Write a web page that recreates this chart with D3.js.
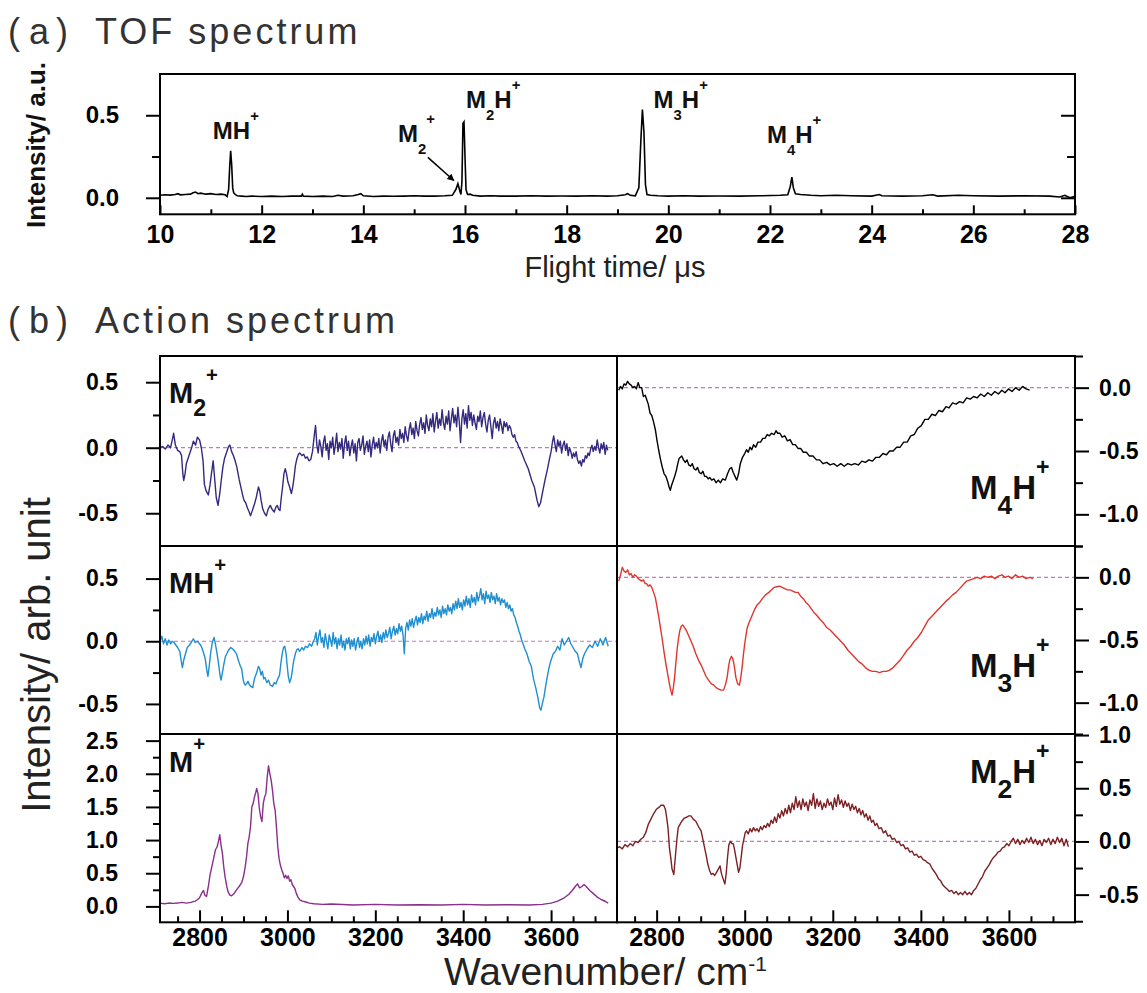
<!DOCTYPE html>
<html><head><meta charset="utf-8">
<script src="https://cdn.jsdelivr.net/npm/d3@7"></script>
<style>body{margin:0;background:#fff}svg{display:block}</style>
</head><body>
<svg id="chart" width="1147" height="993"></svg>
<script>
// ---------------- DATA ----------------
// (a) TOF spectrum: [flight time (us), intensity]
const tofSpectrum = [
[10.0,0.015],[10.1,0.018],[10.2,0.016],[10.3,0.02],[10.35,0.025],[10.4,0.018],[10.5,0.02],[10.6,0.022],[10.65,0.03],[10.7,0.035],[10.75,0.025],[10.8,0.028],[10.9,0.022],[11.0,0.025],[11.1,0.02],[11.2,0.022],[11.28,0.018],[11.32,0.008],[11.35,0.05],[11.37,0.18],[11.39,0.285],[11.41,0.2],[11.43,0.06],[11.45,0.03],[11.48,0.02],[11.52,0.012],[11.6,0.01],[11.7,0.008],[11.8,0.01],[12.0,0.008],[12.2,0.01],[12.4,0.008],[12.6,0.01],[12.78,0.01],[12.8,0.022],[12.82,0.01],[13.0,0.008],[13.2,0.01],[13.4,0.008],[13.5,0.015],[13.6,0.01],[13.8,0.012],[13.9,0.02],[13.95,0.025],[14.0,0.012],[14.2,0.008],[14.4,0.01],[14.6,0.009],[14.8,0.01],[15.0,0.012],[15.2,0.01],[15.4,0.01],[15.6,0.012],[15.75,0.015],[15.82,0.05],[15.86,0.085],[15.9,0.04],[15.92,0.02],[15.94,0.1],[15.96,0.45],[15.98,0.46],[16.0,0.25],[16.02,0.05],[16.05,0.02],[16.1,0.022],[16.15,0.015],[16.3,0.01],[16.5,0.012],[16.7,0.01],[17.0,0.01],[17.3,0.012],[17.6,0.01],[17.9,0.011],[18.2,0.01],[18.5,0.012],[18.8,0.01],[19.0,0.012],[19.15,0.018],[19.2,0.025],[19.25,0.015],[19.35,0.012],[19.42,0.06],[19.46,0.35],[19.49,0.535],[19.52,0.4],[19.55,0.08],[19.58,0.02],[19.65,0.015],[19.8,0.012],[20.0,0.01],[20.3,0.012],[20.6,0.01],[21.0,0.011],[21.4,0.01],[21.8,0.012],[22.2,0.015],[22.35,0.018],[22.4,0.07],[22.43,0.125],[22.46,0.06],[22.5,0.025],[22.6,0.02],[22.8,0.015],[23.0,0.012],[23.3,0.015],[23.6,0.012],[24.0,0.01],[24.15,0.02],[24.2,0.012],[24.6,0.01],[25.0,0.012],[25.2,0.018],[25.3,0.01],[25.7,0.015],[26.0,0.012],[26.5,0.01],[27.0,0.012],[27.5,0.01],[27.7,0.005],[27.8,0.015],[27.9,0.0],[28.0,0.01]
];
const tofXTicks = [10,12,14,16,18,20,22,24,26,28];
const tofYTicks = [0.0,0.5];

// (b) Action spectra: [wavenumber (cm-1), intensity]
const specM2 = [
[2710,0.0],[2716,0.01],[2722,-0.01],[2728,0.02],[2734,0.0],[2738,0.06],[2741,0.11],[2745,0.02],[2750,-0.02],[2755,-0.03],[2759,-0.06],[2762,-0.2],[2764,-0.25],[2767,-0.2],[2770,-0.12],[2777,-0.05],[2782,0.0],[2786,0.05],[2791,0.02],[2795,0.08],[2800,0.06],[2804,0.0],[2808,-0.1],[2811,-0.28],[2815,-0.33],[2820,-0.36],[2824,-0.28],[2827,-0.2],[2831,-0.1],[2834,-0.22],[2838,-0.38],[2842,-0.44],[2846,-0.35],[2849,-0.26],[2853,-0.15],[2857,-0.08],[2862,-0.03],[2866,0.01],[2869,0.02],[2873,-0.03],[2877,-0.06],[2881,-0.1],[2885,-0.15],[2890,-0.24],[2894,-0.3],[2898,-0.36],[2901,-0.4],[2905,-0.42],[2909,-0.46],[2913,-0.49],[2916,-0.52],[2920,-0.48],[2925,-0.43],[2929,-0.38],[2934,-0.3],[2937,-0.33],[2940,-0.4],[2944,-0.47],[2948,-0.5],[2952,-0.52],[2956,-0.47],[2961,-0.44],[2965,-0.47],[2970,-0.49],[2974,-0.45],[2977,-0.44],[2980,-0.47],[2983,-0.48],[2986,-0.38],[2989,-0.3],[2992,-0.2],[2995,-0.16],[2998,-0.2],[3001,-0.26],[3005,-0.3],[3009,-0.35],[3012,-0.3],[3015,-0.23],[3018,-0.14],[3021,-0.09],[3025,-0.05],[3028,-0.04],[3033,-0.06],[3037,-0.05],[3041,-0.08],[3045,-0.07],[3049,-0.1],[3053,-0.09],[3057,-0.03],[3060,0.06],
[3062,0.12],[3064,0.17],[3067,0.02],[3070,-0.04],[3073,0.06],[3076,0.01],[3079,-0.07],[3082,0.04],[3085,0.09],[3088,-0.02],[3091,0.03],[3094,-0.09],[3097,0.05],[3100,0.0],[3103,0.08],[3106,-0.05],[3109,0.02],[3112,0.11],[3115,-0.03],[3118,0.04],[3121,-0.01],[3124,0.07],[3127,-0.08],[3130,0.03],[3133,0.09],[3136,-0.02],[3139,0.05],[3142,-0.06],[3145,0.01],[3148,0.06],[3151,-0.04],[3154,0.03],[3157,-0.1],[3160,0.04],[3163,0.07],[3166,-0.02],[3169,0.02],[3172,0.09],[3175,-0.05],[3178,0.01],[3181,0.05],[3184,-0.03],[3187,0.06],[3190,-0.07],[3193,0.02],[3196,0.08],[3199,-0.01],[3202,0.04],[3205,0.0],[3208,0.07],[3211,-0.04],[3214,0.05],[3217,0.1],[3220,0.01],[3223,0.06],[3226,-0.02],[3229,0.08],[3232,0.12],[3235,0.03],[3238,-0.03],[3241,0.09],[3244,0.13],[3247,0.04],[3250,0.08],[3253,0.02],[3256,0.14],[3259,0.07],[3262,0.11],[3265,0.04],[3268,0.16],[3271,0.09],[3274,0.05],[3277,0.14],[3280,0.19],[3283,0.1],[3286,0.15],[3289,0.07],[3292,0.2],[3295,0.13],[3298,0.09],[3301,0.18],[3304,0.23],[3307,0.14],[3310,0.19],[3313,0.11],[3316,0.25],[3319,0.17],[3322,0.13],[3325,0.22],[3328,0.16],[3331,0.26],[3334,0.12],[3337,0.2],[3340,0.27],[3343,0.15],[3346,0.22],[3349,0.17],[3352,0.29],[3355,0.19],[3358,0.14],[3361,0.24],[3364,0.18],[3367,0.28],[3370,0.13],[3373,0.22],[3376,0.3],[3379,0.19],[3382,0.25],[3385,0.16],[3388,0.31],[3391,0.2],[3394,0.04],[3397,0.22],[3400,0.29],[3403,0.18],[3406,0.26],[3409,0.15],[3412,0.32],[3415,0.21],[3418,0.27],[3421,0.17],[3424,0.25],[3427,0.19],[3430,0.14],[3433,0.24],[3436,0.2],[3439,0.28],[3442,0.16],[3445,0.23],[3448,0.27],[3451,0.18],[3454,0.12],[3457,0.21],[3460,0.25],[3463,0.16],[3466,0.07],[3469,0.19],[3472,0.23],[3475,0.15],[3478,0.2],[3481,0.13],[3484,0.22],[3487,0.17],[3490,0.11],[3493,0.2],[3496,0.16],[3499,0.19],[3502,0.13],[3505,0.17],[3508,0.15],[3511,0.1],[3514,0.08],[3517,0.1],[3520,0.05],[3523,0.04],[3526,0.01],[3529,-0.01],[3532,-0.03],
[3540,-0.1],[3548,-0.16],[3556,-0.25],[3562,-0.3],[3568,-0.4],[3572,-0.45],[3576,-0.42],[3580,-0.35],[3586,-0.25],[3592,-0.16],[3596,-0.09],[3600,-0.03],[3603,0.04],[3606,0.09],[3609,0.02],[3612,-0.03],[3615,0.06],[3618,0.01],[3621,0.05],[3624,-0.04],[3627,0.02],[3630,0.05],[3633,-0.02],[3636,0.03],[3639,-0.06],[3642,0.0],[3645,-0.03],[3648,-0.08],[3651,-0.04],[3654,-0.07],[3657,-0.03],[3660,-0.09],[3663,-0.12],[3666,-0.1],[3669,-0.14],[3672,-0.09],[3675,-0.11],[3678,-0.06],[3681,-0.08],[3684,-0.04],[3687,-0.06],[3690,-0.01],[3693,0.02],[3696,-0.03],[3699,0.01],[3702,-0.02],[3705,0.06],[3708,0.0],[3711,-0.04],[3714,0.03],[3717,-0.01],[3720,0.04],[3723,-0.05],[3726,0.02],[3729,-0.02]
];
const specMH = [
[2710,0.0],[2714,0.04],[2718,-0.02],[2722,0.02],[2726,-0.03],[2730,0.01],[2734,-0.02],[2738,0.0],[2742,-0.01],[2746,-0.03],[2750,-0.05],[2755,-0.08],[2758,-0.15],[2761,-0.21],[2764,-0.15],[2768,-0.1],[2772,-0.05],[2777,-0.03],[2781,-0.01],[2786,0.02],[2790,-0.01],[2795,0.0],[2800,-0.02],[2804,-0.04],[2808,-0.08],[2813,-0.14],[2816,-0.22],[2819,-0.28],[2822,-0.2],[2825,-0.1],[2829,-0.01],[2833,0.03],[2836,-0.02],[2840,-0.1],[2844,-0.2],[2847,-0.28],[2849,-0.31],[2852,-0.25],[2856,-0.17],[2859,-0.12],[2862,-0.1],[2866,-0.07],[2871,-0.05],[2875,-0.06],[2880,-0.08],[2884,-0.1],[2889,-0.16],[2893,-0.2],[2896,-0.22],[2899,-0.3],[2901,-0.33],[2904,-0.35],[2907,-0.34],[2910,-0.32],[2914,-0.35],[2917,-0.36],[2921,-0.37],[2925,-0.3],[2930,-0.25],[2934,-0.2],[2937,-0.22],[2940,-0.27],[2943,-0.24],[2946,-0.3],[2949,-0.29],[2953,-0.33],[2957,-0.31],[2961,-0.35],[2966,-0.36],[2970,-0.33],[2974,-0.34],[2978,-0.3],[2982,-0.27],[2985,-0.18],[2988,-0.1],[2991,-0.05],[2994,-0.04],[2997,-0.1],[2999,-0.18],[3002,-0.28],[3005,-0.33],[3008,-0.3],[3010,-0.26],[3014,-0.16],[3018,-0.1],[3021,-0.07],[3024,-0.06],[3028,-0.08],[3033,-0.05],[3037,-0.07],[3041,-0.04],[3046,-0.05],[3050,-0.02],[3055,-0.04],[3059,0.0],
[3062,0.02],[3065,0.07],[3068,-0.03],[3071,0.04],[3074,0.09],[3077,-0.01],[3080,0.03],[3083,-0.05],[3086,0.06],[3089,0.0],[3092,-0.06],[3095,0.05],[3098,0.01],[3101,-0.04],[3104,0.07],[3107,-0.02],[3110,0.03],[3113,-0.06],[3116,0.02],[3119,-0.03],[3122,0.05],[3125,-0.05],[3128,0.0],[3131,-0.07],[3134,0.02],[3137,-0.02],[3140,0.03],[3143,-0.06],[3146,0.01],[3149,-0.04],[3152,0.02],[3155,-0.07],[3158,-0.01],[3161,0.03],[3164,-0.05],[3167,0.0],[3170,-0.06],[3173,0.02],[3176,-0.03],[3179,0.04],[3182,-0.02],[3185,0.05],[3188,-0.04],[3191,0.03],[3194,0.0],[3197,0.06],[3200,-0.02],[3203,0.04],[3206,0.08],[3209,0.0],[3212,0.05],[3215,-0.01],[3218,0.07],[3221,0.02],[3224,0.09],[3227,0.03],[3230,0.06],[3233,0.11],[3236,0.02],[3239,0.08],[3242,0.12],[3245,0.05],[3248,0.1],[3251,0.06],[3254,0.14],[3257,0.08],[3260,0.12],[3263,0.05],[3266,-0.1],[3269,0.1],[3272,0.15],[3275,0.09],[3278,0.17],[3281,0.12],[3284,0.18],[3287,0.11],[3290,0.16],[3293,0.2],[3296,0.13],[3299,0.19],[3302,0.15],[3305,0.22],[3308,0.14],[3311,0.2],[3314,0.17],[3317,0.24],[3320,0.16],[3323,0.22],[3326,0.19],[3329,0.26],[3332,0.18],[3335,0.23],[3338,0.2],[3341,0.27],[3344,0.21],[3347,0.25],[3350,0.19],[3353,0.28],[3356,0.22],[3359,0.26],[3362,0.21],[3365,0.29],[3368,0.24],[3371,0.27],[3374,0.22],[3377,0.3],[3380,0.25],[3383,0.32],[3386,0.26],[3389,0.34],[3392,0.27],[3395,0.31],[3398,0.25],[3401,0.33],[3404,0.28],[3407,0.36],[3410,0.29],[3413,0.34],[3416,0.27],[3419,0.37],[3422,0.31],[3425,0.35],[3428,0.29],[3431,0.39],[3434,0.32],[3437,0.36],[3440,0.42],[3443,0.33],[3446,0.38],[3449,0.3],[3452,0.4],[3455,0.34],[3458,0.37],[3461,0.31],[3464,0.39],[3467,0.33],[3470,0.36],[3473,0.3],[3476,0.38],[3479,0.32],[3482,0.35],[3485,0.29],[3488,0.34],[3491,0.31],[3494,0.33],[3497,0.27],[3500,0.31],[3503,0.26],[3506,0.29],[3509,0.24],[3512,0.26],[3515,0.21],[3518,0.19],[3521,0.15],[3524,0.12],[3527,0.08],[3530,0.05],[3533,0.01],[3536,-0.02],
[3540,-0.06],[3545,-0.1],[3550,-0.16],[3555,-0.2],[3560,-0.3],[3565,-0.37],[3570,-0.45],[3574,-0.53],[3577,-0.55],[3580,-0.5],[3584,-0.44],[3588,-0.35],[3592,-0.27],[3596,-0.2],[3600,-0.15],[3605,-0.1],[3610,-0.08],[3615,-0.04],[3620,-0.07],[3625,0.02],[3630,-0.03],[3635,0.0],[3640,0.03],[3645,-0.02],[3650,-0.05],[3655,-0.08],[3660,-0.1],[3664,-0.16],[3668,-0.21],[3672,-0.14],[3676,-0.1],[3682,-0.06],[3688,-0.03],[3694,-0.05],[3700,0.0],[3706,-0.04],[3712,0.02],[3718,-0.03],[3724,0.03],[3730,-0.04]
];
const specM = [
[2710,0.05],[2720,0.04],[2730,0.05],[2740,0.045],[2750,0.05],[2760,0.06],[2770,0.05],[2780,0.06],[2790,0.08],[2795,0.1],[2800,0.13],[2805,0.2],[2809,0.24],[2812,0.17],[2816,0.15],[2820,0.3],[2824,0.48],[2828,0.6],[2832,0.72],[2836,0.85],[2840,0.9],[2843,0.98],[2846,1.08],[2849,0.92],[2852,0.8],[2855,0.6],[2858,0.45],[2862,0.3],[2865,0.22],[2869,0.17],[2873,0.16],[2878,0.19],[2884,0.25],[2890,0.3],[2896,0.36],[2900,0.45],[2904,0.6],[2907,0.75],[2910,0.95],[2913,1.05],[2916,1.2],[2919,1.5],[2922,1.55],[2925,1.65],[2928,1.72],[2930,1.78],[2933,1.7],[2936,1.48],[2939,1.35],[2942,1.28],[2945,1.55],[2948,1.65],[2951,1.7],[2954,1.95],[2957,2.12],[2960,2.0],[2963,1.9],[2966,1.75],[2969,1.55],[2972,1.45],[2975,1.2],[2978,0.9],[2981,0.72],[2984,0.62],[2987,0.55],[2990,0.5],[2993,0.43],[2996,0.47],[2999,0.42],[3002,0.46],[3005,0.38],[3008,0.4],[3011,0.33],[3014,0.3],[3017,0.27],[3020,0.2],[3024,0.14],[3028,0.1],[3034,0.08],[3040,0.07],[3050,0.05],[3060,0.04],[3080,0.03],[3100,0.035],[3150,0.02],[3200,0.03],[3250,0.02],[3300,0.025],[3350,0.02],[3400,0.03],[3450,0.02],[3500,0.025],[3550,0.02],[3580,0.03],[3600,0.05],[3615,0.08],[3630,0.13],[3640,0.18],[3648,0.24],[3655,0.3],[3660,0.34],[3665,0.28],[3670,0.3],[3675,0.33],[3680,0.3],[3688,0.24],[3695,0.2],[3705,0.14],[3715,0.1],[3725,0.07],[3730,0.05]
];
const specM4H = [
[2714,-0.02],[2718,0.01],[2722,-0.01],[2726,0.03],[2730,0.02],[2734,0.05],[2738,0.03],[2742,0.02],[2746,0.0],[2750,0.01],[2754,-0.01],[2758,0.04],[2762,0.0],[2766,0.0],[2770,-0.07],[2774,-0.06],[2777,-0.09],[2781,-0.13],[2785,-0.2],[2789,-0.22],[2793,-0.27],[2797,-0.33],[2801,-0.42],[2805,-0.5],[2809,-0.57],[2813,-0.63],[2817,-0.68],[2821,-0.7],[2825,-0.74],[2828,-0.78],[2831,-0.81],[2834,-0.77],[2837,-0.74],[2841,-0.7],[2845,-0.65],[2848,-0.6],[2851,-0.56],[2854,-0.55],[2857,-0.54],[2861,-0.57],[2865,-0.59],[2869,-0.57],[2873,-0.61],[2877,-0.62],[2881,-0.6],[2885,-0.64],[2889,-0.65],[2893,-0.63],[2897,-0.67],[2901,-0.68],[2905,-0.66],[2909,-0.7],[2913,-0.7],[2917,-0.72],[2921,-0.71],[2925,-0.73],[2930,-0.72],[2935,-0.75],[2940,-0.73],[2945,-0.75],[2950,-0.72],[2956,-0.73],[2961,-0.68],[2966,-0.64],[2970,-0.63],[2974,-0.67],[2978,-0.7],[2982,-0.73],[2986,-0.68],[2990,-0.6],[2995,-0.55],[3000,-0.52],[3004,-0.49],[3008,-0.51],[3012,-0.47],[3016,-0.49],[3020,-0.45],[3025,-0.47],[3030,-0.43],[3036,-0.43],[3041,-0.4],[3046,-0.4],[3051,-0.37],[3056,-0.38],[3061,-0.36],[3067,-0.37],[3071,-0.34],[3075,-0.36],[3080,-0.36],[3085,-0.39],[3091,-0.38],[3097,-0.42],[3103,-0.41],[3109,-0.45],[3115,-0.45],[3121,-0.48],[3127,-0.48],[3133,-0.51],[3140,-0.51],[3147,-0.54],[3155,-0.54],[3163,-0.57],[3170,-0.57],[3178,-0.6],[3186,-0.59],[3194,-0.61],[3202,-0.6],[3210,-0.62],[3218,-0.6],[3226,-0.62],[3234,-0.6],[3242,-0.61],[3250,-0.6],[3258,-0.61],[3266,-0.58],[3274,-0.59],[3282,-0.57],[3290,-0.58],[3298,-0.55],[3306,-0.55],[3314,-0.52],[3322,-0.53],[3329,-0.5],[3337,-0.5],[3345,-0.47],[3353,-0.47],[3361,-0.43],[3369,-0.43],[3377,-0.38],[3385,-0.37],[3393,-0.32],[3401,-0.3],[3409,-0.25],[3417,-0.25],[3425,-0.21],[3433,-0.22],[3441,-0.18],[3449,-0.19],[3457,-0.15],[3464,-0.16],[3472,-0.12],[3480,-0.13],[3488,-0.11],[3496,-0.12],[3504,-0.08],[3512,-0.09],[3520,-0.07],[3528,-0.08],[3536,-0.05],[3544,-0.07],[3552,-0.04],[3560,-0.06],[3568,-0.03],[3576,-0.05],[3584,-0.02],[3591,-0.04],[3599,-0.01],[3607,-0.03],[3615,0.0],[3623,-0.02],[3631,0.01],[3639,-0.01],[3647,-0.02]
];
const specM3H = [
[2714,-0.03],[2718,0.02],[2722,0.08],[2726,0.05],[2730,0.04],[2734,0.06],[2738,0.02],[2742,0.03],[2746,0.0],[2750,0.02],[2754,0.01],[2758,-0.01],[2762,-0.02],[2766,-0.03],[2770,-0.02],[2774,-0.05],[2777,-0.05],[2781,-0.07],[2785,-0.06],[2789,-0.08],[2793,-0.12],[2797,-0.16],[2801,-0.24],[2805,-0.32],[2809,-0.41],[2813,-0.5],[2817,-0.6],[2821,-0.69],[2825,-0.77],[2829,-0.85],[2832,-0.9],[2835,-0.94],[2838,-0.88],[2841,-0.79],[2844,-0.67],[2847,-0.56],[2850,-0.48],[2853,-0.42],[2856,-0.39],[2859,-0.38],[2863,-0.4],[2867,-0.42],[2872,-0.46],[2877,-0.5],[2883,-0.55],[2889,-0.61],[2895,-0.66],[2901,-0.7],[2906,-0.74],[2912,-0.79],[2918,-0.82],[2924,-0.85],[2930,-0.86],[2935,-0.88],[2940,-0.89],[2946,-0.9],[2952,-0.9],[2956,-0.86],[2960,-0.8],[2963,-0.72],[2966,-0.66],[2970,-0.63],[2973,-0.65],[2976,-0.7],[2980,-0.8],[2984,-0.85],[2988,-0.86],[2991,-0.8],[2994,-0.72],[2997,-0.62],[3000,-0.53],[3003,-0.46],[3006,-0.4],[3010,-0.36],[3016,-0.31],[3022,-0.26],[3028,-0.22],[3034,-0.2],[3040,-0.17],[3047,-0.14],[3055,-0.12],[3061,-0.1],[3067,-0.08],[3073,-0.075],[3079,-0.07],[3085,-0.08],[3091,-0.09],[3097,-0.1],[3103,-0.1],[3109,-0.11],[3115,-0.12],[3121,-0.12],[3127,-0.15],[3133,-0.17],[3139,-0.2],[3145,-0.22],[3151,-0.25],[3157,-0.28],[3163,-0.3],[3170,-0.33],[3178,-0.36],[3186,-0.4],[3194,-0.42],[3202,-0.45],[3210,-0.48],[3218,-0.51],[3226,-0.54],[3234,-0.58],[3242,-0.61],[3250,-0.64],[3258,-0.67],[3266,-0.69],[3274,-0.72],[3282,-0.74],[3290,-0.75],[3298,-0.75],[3306,-0.76],[3314,-0.75],[3322,-0.75],[3329,-0.74],[3337,-0.72],[3345,-0.69],[3353,-0.66],[3361,-0.62],[3369,-0.58],[3377,-0.55],[3385,-0.51],[3393,-0.48],[3401,-0.44],[3409,-0.39],[3417,-0.34],[3425,-0.31],[3433,-0.28],[3441,-0.25],[3449,-0.22],[3457,-0.19],[3464,-0.17],[3472,-0.14],[3480,-0.12],[3488,-0.09],[3496,-0.06],[3504,-0.03],[3512,-0.02],[3520,-0.01],[3528,0.0],[3536,-0.01],[3544,0.01],[3552,0.0],[3560,0.01],[3568,-0.01],[3576,0.01],[3584,0.02],[3591,0.0],[3599,0.01],[3607,-0.01],[3615,0.02],[3623,0.0],[3631,0.01],[3639,-0.01],[3647,0.0],[3655,-0.01]
];
const specM2H = [
[2710,-0.06],[2716,-0.05],[2722,-0.07],[2728,-0.03],[2734,-0.05],[2740,-0.02],[2746,-0.04],[2752,0.0],[2758,-0.01],[2764,0.02],[2770,0.04],[2775,0.08],[2781,0.16],[2787,0.21],[2793,0.26],[2799,0.3],[2805,0.32],[2810,0.34],[2816,0.34],[2820,0.3],[2823,0.22],[2826,0.12],[2829,-0.06],[2832,-0.15],[2835,-0.26],[2839,-0.31],[2843,-0.12],[2846,0.02],[2849,0.13],[2853,0.16],[2857,0.19],[2863,0.22],[2869,0.23],[2873,0.24],[2878,0.24],[2883,0.21],[2889,0.19],[2895,0.14],[2901,0.1],[2905,0.02],[2909,-0.06],[2913,-0.14],[2916,-0.21],[2920,-0.27],[2924,-0.31],[2928,-0.3],[2932,-0.32],[2936,-0.29],[2940,-0.26],[2944,-0.23],[2947,-0.3],[2950,-0.34],[2955,-0.4],[2958,-0.3],[2961,-0.15],[2964,-0.03],[2968,0.0],[2971,-0.02],[2974,-0.02],[2977,-0.08],[2980,-0.15],[2983,-0.22],[2986,-0.29],[2989,-0.25],[2992,-0.15],[2995,-0.04],[2998,0.02],[3001,0.08],[3004,0.1],[3008,0.07],[3012,0.12],[3016,0.09],[3020,0.13],[3024,0.1],[3028,0.12],[3032,0.09],[3036,0.14],[3040,0.11],[3044,0.15],[3048,0.13],[3052,0.17],[3056,0.14],[3060,0.2],[3064,0.17],[3068,0.23],[3072,0.18],[3076,0.26],[3080,0.22],[3084,0.29],[3088,0.24],[3092,0.31],[3096,0.26],[3100,0.34],[3104,0.27],[3108,0.36],[3112,0.3],[3116,0.42],[3120,0.32],[3124,0.38],[3128,0.3],[3132,0.4],[3136,0.33],[3140,0.37],[3144,0.29],[3148,0.39],[3152,0.34],[3156,0.45],[3160,0.31],[3164,0.4],[3168,0.33],[3172,0.38],[3176,0.3],[3180,0.36],[3184,0.32],[3188,0.4],[3192,0.34],[3196,0.37],[3200,0.3],[3204,0.41],[3208,0.33],[3212,0.44],[3216,0.35],[3220,0.39],[3224,0.32],[3228,0.38],[3232,0.33],[3236,0.36],[3240,0.29],[3244,0.35],[3248,0.3],[3252,0.33],[3256,0.27],[3260,0.31],[3264,0.25],[3268,0.29],[3272,0.23],[3276,0.26],[3280,0.2],[3284,0.24],[3288,0.18],[3292,0.2],[3296,0.15],[3300,0.17],[3305,0.12],[3310,0.13],[3315,0.08],[3320,0.1],[3325,0.05],[3330,0.06],[3335,0.02],[3340,0.03],[3345,-0.01],[3350,0.0],[3355,-0.04],[3360,-0.03],[3365,-0.07],[3370,-0.06],[3375,-0.1],[3380,-0.09],[3385,-0.13],[3390,-0.12],[3395,-0.15],[3400,-0.14],[3405,-0.17],[3410,-0.18],[3415,-0.2],[3420,-0.21],[3425,-0.25],[3430,-0.28],[3435,-0.31],[3440,-0.35],[3445,-0.37],[3450,-0.41],[3455,-0.43],[3460,-0.45],[3465,-0.47],[3470,-0.46],[3475,-0.49],[3480,-0.47],[3485,-0.5],[3490,-0.48],[3495,-0.5],[3500,-0.47],[3505,-0.5],[3510,-0.48],[3515,-0.5],[3520,-0.46],[3525,-0.44],[3530,-0.4],[3535,-0.36],[3540,-0.33],[3545,-0.28],[3550,-0.25],[3555,-0.22],[3560,-0.18],[3565,-0.15],[3570,-0.13],[3575,-0.1],[3580,-0.09],[3585,-0.06],[3590,-0.05],[3595,-0.02],[3600,-0.04],[3605,0.0],[3610,0.03],[3615,-0.02],[3620,0.02],[3625,-0.03],[3630,0.01],[3635,-0.02],[3640,0.03],[3645,-0.01],[3650,0.04],[3655,-0.02],[3660,0.02],[3665,-0.03],[3670,0.01],[3675,-0.04],[3680,0.02],[3685,-0.01],[3690,0.03],[3695,-0.03],[3700,0.02],[3705,-0.02],[3710,0.04],[3715,-0.01],[3720,0.03],[3725,-0.04],[3730,0.02],[3735,-0.05]
];
const wnTicks = [2800,3000,3200,3400,3600];
const panelNames = ["M_2^+","MH^+","M^+","M_4H^+","M_3H^+","M_2H^+"];
const tofPeakLabels = ["MH^+","M_2^+","M_2H^+","M_3H^+","M_4H^+"];

// ---------------- LAYOUT ----------------
const FONT = "Arial, 'Liberation Sans', Helvetica, sans-serif";
const svg = d3.select("#chart");
const fmt = d => d.toFixed(1);

function richLabel(parent, x, y, spec, size, o) {
  const t = parent.append("text").attr("x", x).attr("y", y)
    .attr("font-family", FONT).attr("font-weight", "bold").attr("font-size", size).attr("fill", "#111");
  let shift = 0, i = 0;
  while (i < spec.length) {
    let ch = spec[i], target = 0, fs = size;
    if (ch === "_") { ch = spec[i+1]; i++; target = size*o.subShift; fs = size*o.subScale; }
    else if (ch === "^") { ch = spec[i+1]; i++; target = -size*o.supShift; fs = size*o.supScale; }
    t.append("tspan").attr("dy", target - shift).attr("font-size", fs).text(ch);
    shift = target; i++;
  }
  return t;
}

function styleAxis(g, size) {
  g.select(".domain").remove();
  g.attr("font-family", FONT).attr("font-size", size).attr("font-weight", "bold");
  g.selectAll("line").attr("stroke", "#000").attr("stroke-width", 2);
  g.selectAll("text").attr("fill", "#000");
}

// ---------- (a) TOF ----------
const tof = {l:160, r:1075, t:74, b:214.3};
const xT = d3.scaleLinear().domain([10, 28]).range([tof.l, tof.r]);
const yT = d3.scaleLinear().domain([-0.1, 0.75]).range([tof.b, tof.t]);
const gT = svg.append("g");

const minorT = d3.range(11, 28, 2);
gT.append("g").attr("transform", `translate(0,${tof.b})`)
  .call(d3.axisBottom(xT).tickValues(minorT).tickSize(-5).tickFormat("")).call(g => styleAxis(g, 24));
gT.append("g").attr("transform", `translate(0,${tof.b})`)
  .call(d3.axisBottom(xT).tickValues(tofXTicks).tickSize(-9).tickPadding(11).tickFormat(d3.format("d"))).call(g => styleAxis(g, 25));
gT.append("g").attr("transform", `translate(${tof.l},0)`)
  .call(d3.axisLeft(yT).tickValues([0.25]).tickSize(8).tickFormat("")).call(g => styleAxis(g, 24));
gT.append("g").attr("transform", `translate(${tof.l},0)`)
  .call(d3.axisLeft(yT).tickValues(tofYTicks).tickSize(14).tickPadding(27).tickFormat(fmt)).call(g => styleAxis(g, 24));
gT.append("g").attr("transform", `translate(${tof.r},0)`)
  .call(d3.axisLeft(yT).tickValues([0.25]).tickSize(8).tickFormat("")).call(g => styleAxis(g, 24));
gT.append("g").attr("transform", `translate(${tof.r},0)`)
  .call(d3.axisLeft(yT).tickValues(tofYTicks).tickSize(14).tickFormat("")).call(g => styleAxis(g, 24));

gT.append("path").datum(tofSpectrum)
  .attr("d", d3.line().x(d => xT(d[0])).y(d => yT(d[1])))
  .attr("fill", "none").attr("stroke", "#000").attr("stroke-width", 1.6);
gT.append("rect").attr("x", tof.l).attr("y", tof.t).attr("width", tof.r - tof.l).attr("height", tof.b - tof.t)
  .attr("fill", "none").attr("stroke", "#000").attr("stroke-width", 2);

const tofLabelPos = [[11.04, 0.356], [14.68, 0.34], [16.02, 0.544], [19.71, 0.544], [21.94, 0.33]];
const tofLblOpt = {subShift: 0.5, subScale: 0.62, supShift: 0.75, supScale: 0.62};
tofPeakLabels.forEach((s, i) => richLabel(gT, xT(tofLabelPos[i][0]), yT(tofLabelPos[i][1]), s, 24, tofLblOpt));

svg.append("defs").append("marker").attr("id", "arr").attr("viewBox", "0 0 10 10")
  .attr("refX", 9).attr("refY", 5).attr("markerWidth", 9).attr("markerHeight", 7).attr("orient", "auto")
  .attr("markerUnits", "userSpaceOnUse")
  .append("path").attr("d", "M0,0 L10,5 L0,10 z").attr("fill", "#000");
gT.append("line").attr("x1", xT(15.27)).attr("y1", yT(0.245)).attr("x2", xT(15.78)).attr("y2", yT(0.105))
  .attr("stroke", "#000").attr("stroke-width", 1.5).attr("marker-end", "url(#arr)");

svg.append("text").attr("transform", "translate(45,145) rotate(-90)").attr("text-anchor", "middle")
  .attr("font-family", FONT).attr("font-weight", "bold").attr("font-size", 26).attr("fill", "#111")
  .text("Intensity/ a.u.");
svg.append("text").attr("x", 615).attr("y", 277).attr("text-anchor", "middle")
  .attr("font-family", FONT).attr("font-size", 29).attr("fill", "#222")
  .text("Flight time/ \u03bcs");

function sectionTitle(y, letter, words) {
  const t = svg.append("text").attr("y", y).attr("font-family", FONT).attr("font-size", 36)
    .attr("fill", "#333").attr("letter-spacing", 3);
  t.append("tspan").attr("x", 8).text("(");
  t.append("tspan").attr("x", 29).text(letter);
  t.append("tspan").attr("x", 56).text(")");
  t.append("tspan").attr("x", 95).text(words);
}
sectionTitle(44, "a", "TOF spectrum");
sectionTitle(333, "b", "Action spectrum");

// ---------- (b) Action spectra ----------
const cols = [[160, 617], [617, 1075]];
const rows = [[356, 546], [546, 734], [734, 922.3]];
const panels = [
  {data: specM2,  col: 0, row: 0, dom: [-0.75, 0.7],  color: "#34297f", major: [-0.5, 0, 0.5], dash: true},
  {data: specMH,  col: 0, row: 1, dom: [-0.74, 0.76], color: "#1f8fd0", major: [-0.5, 0, 0.5], dash: true},
  {data: specM,   col: 0, row: 2, dom: [-0.24, 2.6],  color: "#8b2e8e", major: [0, 0.5, 1, 1.5, 2, 2.5], dash: false},
  {data: specM4H, col: 1, row: 0, dom: [-1.25, 0.25], color: "#000000", major: [-1, -0.5, 0], dash: true},
  {data: specM3H, col: 1, row: 1, dom: [-1.25, 0.25], color: "#e0352f", major: [-1, -0.5, 0], dash: true},
  {data: specM2H, col: 1, row: 2, dom: [-0.76, 1.01], color: "#7d2024", major: [-0.5, 0, 0.5, 1.0], dash: true}
];
const gB = svg.append("g");
const panelOpt = {subShift: 0.45, subScale: 0.8, supShift: 0.72, supScale: 0.7};

panels.forEach((p, i) => {
  const [l, r] = cols[p.col], [t, b] = rows[p.row];
  const x = d3.scaleLinear().domain([2710, 3750]).range([l, r]);
  const y = d3.scaleLinear().domain(p.dom).range([b, t]);
  const g = gB.append("g");
  const minors = d3.range(-1.25, 2.76, 0.25).filter(v => !p.major.some(m => Math.abs(m - v) < 1e-6))
    .filter(v => v >= p.dom[0] - 0.011 && v <= p.dom[1] + 0.011)
    .filter(v => p.col === 1 || (v > p.dom[0] + 0.02 && v < p.dom[1] - 0.02));
  if (p.col === 0) {
    g.append("g").attr("transform", `translate(${l},0)`)
      .call(d3.axisLeft(y).tickValues(minors).tickSize(7).tickFormat("")).call(a => styleAxis(a, 23));
    g.append("g").attr("transform", `translate(${l},0)`)
      .call(d3.axisLeft(y).tickValues(p.major).tickSize(14).tickPadding(28).tickFormat(fmt)).call(a => styleAxis(a, 23));
  } else {
    g.append("g").attr("transform", `translate(${r},0)`)
      .call(d3.axisRight(y).tickValues(minors).tickSize(8).tickFormat("")).call(a => styleAxis(a, 23));
    g.append("g").attr("transform", `translate(${r},0)`)
      .call(d3.axisRight(y).tickValues(p.major).tickSize(14).tickPadding(10).tickFormat(fmt)).call(a => styleAxis(a, 23));
  }
  if (p.row === 2) {
    g.append("g").attr("transform", `translate(0,${b})`)
      .call(d3.axisBottom(x).tickValues(d3.range(2750, 3750, 50).filter(v => v % 200 !== 0)).tickSize(-6).tickFormat(""))
      .call(a => styleAxis(a, 25));
    g.append("g").attr("transform", `translate(0,${b})`)
      .call(d3.axisBottom(x).tickValues(wnTicks).tickSize(-12).tickPadding(6).tickFormat(d3.format("d")))
      .call(a => styleAxis(a, 25));
  }
  if (p.dash) {
    g.append("line").attr("x1", l).attr("x2", r).attr("y1", y(0)).attr("y2", y(0))
      .attr("stroke", "#c47ab8").attr("stroke-width", 1.2).attr("stroke-dasharray", "4,3");
  }
  g.append("path").datum(p.data)
    .attr("d", d3.line().x(d => x(d[0])).y(d => y(d[1])))
    .attr("fill", "none").attr("stroke", p.color).attr("stroke-width", 1.4).attr("stroke-linejoin", "round");
  g.append("rect").attr("x", l).attr("y", t).attr("width", r - l).attr("height", b - t)
    .attr("fill", "none").attr("stroke", "#000").attr("stroke-width", 2);
  if (p.col === 0) {
    richLabel(g, l + 9, t + (p.row === 2 ? 38 : 47), panelNames[i], 29, panelOpt);
  } else {
    richLabel(g, r - 105, t + (p.row === 2 ? 49 : p.row === 1 ? 131 : 143), panelNames[i], 33, panelOpt);
  }
});

svg.append("text").attr("transform", "translate(50,655) rotate(-90)").attr("text-anchor", "middle")
  .attr("font-family", FONT).attr("font-size", 40).attr("fill", "#222")
  .text("Intensity/ arb. unit");
const wl = svg.append("text").attr("x", 444).attr("y", 985)
  .attr("font-family", FONT).attr("font-size", 39).attr("fill", "#222");
wl.append("tspan").text("Wavenumber/ cm");
wl.append("tspan").attr("dy", -14).attr("font-size", 21).text("-1");
</script></body></html>
